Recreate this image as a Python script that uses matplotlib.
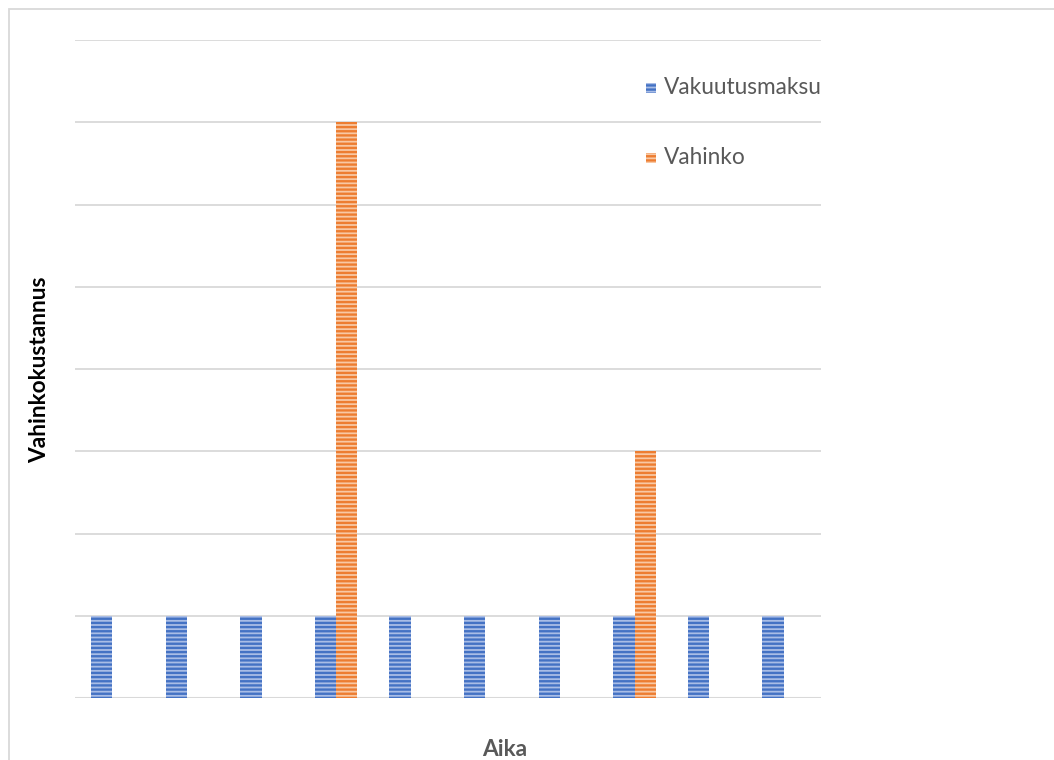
import matplotlib
matplotlib.use("Agg")
import matplotlib.pyplot as plt
import numpy as np
from matplotlib.patches import Rectangle

# data (no tick labels shown, values in grid units)
periods = list(range(1, 11))
premium = [1, 1, 1, 1, 1, 1, 1, 1, 1, 1]
damage = [0, 0, 0, 7, 0, 0, 0, 3, 0, 0]
series_names = ["Vakuutusmaksu", "Vahinko"]

BLUE, BLUE_LIGHT = "#4472C4", "#a9bde6"
ORANGE, ORANGE_LIGHT = "#ED7D31", "#f8c8a4"
GRID = "#d9d9d9"

plt.rcParams["font.family"] = ["Lato", "DejaVu Sans"]
plt.rcParams["hatch.linewidth"] = 1.7

W, H = 1054, 760
fig = plt.figure(figsize=(W / 100, H / 100), dpi=100)
ax = fig.add_axes([75 / W, 1 - 698 / H, (821 - 75) / W, (698 - 40) / H])

x = np.arange(len(periods))
bw = 0.285
ax.bar(x - bw / 2, premium, bw, color=BLUE_LIGHT, edgecolor=BLUE,
       hatch="----", linewidth=0)
ax.bar(x + bw / 2, damage, bw, color=ORANGE_LIGHT, edgecolor=ORANGE,
       hatch="----", linewidth=0)

ax.set_xlim(-0.5, len(periods) - 0.5)
ax.set_ylim(0, 8)
ax.set_yticks(range(0, 9))
ax.grid(axis="y", color=GRID, lw=1.3)
ax.set_axisbelow(True)
ax.tick_params(left=False, bottom=False, labelleft=False, labelbottom=False)
for s in ax.spines.values():
    s.set_visible(False)
ax.axhline(0, color=GRID, lw=1.5, zorder=0.5)

fig.text(505 / W, 1 - 749 / H, "Aika", ha="center", va="center",
         fontsize=16.3, fontweight="bold", color="#595959")
fig.text(40 / W, 1 - 370 / H, "Vahinkokustannus", ha="center", va="center",
         rotation=90, fontsize=16.3, fontweight="bold", color="black")

# legend, drawn by hand to match the wide spacing
for name, dark, light, yc in [(series_names[0], BLUE, BLUE_LIGHT, 88),
                              (series_names[1], ORANGE, ORANGE_LIGHT, 158)]:
    fig.patches.append(Rectangle((646 / W, 1 - (yc + 5) / H), 10 / W, 10 / H,
                                 transform=fig.transFigure, facecolor=light,
                                 edgecolor=dark, hatch="----", linewidth=0))
    fig.text(664 / W, 1 - yc / H, name, ha="left", va="center",
             fontsize=16.3, color="#595959")

# chart border (cropped on right and bottom)
fig.patches.append(Rectangle((8.5 / W, -0.1), 1.2, 1 - 9 / H + 0.1,
                             transform=fig.transFigure, fill=False,
                             edgecolor=GRID, linewidth=1.3))

fig.savefig("out.png", dpi=100)
